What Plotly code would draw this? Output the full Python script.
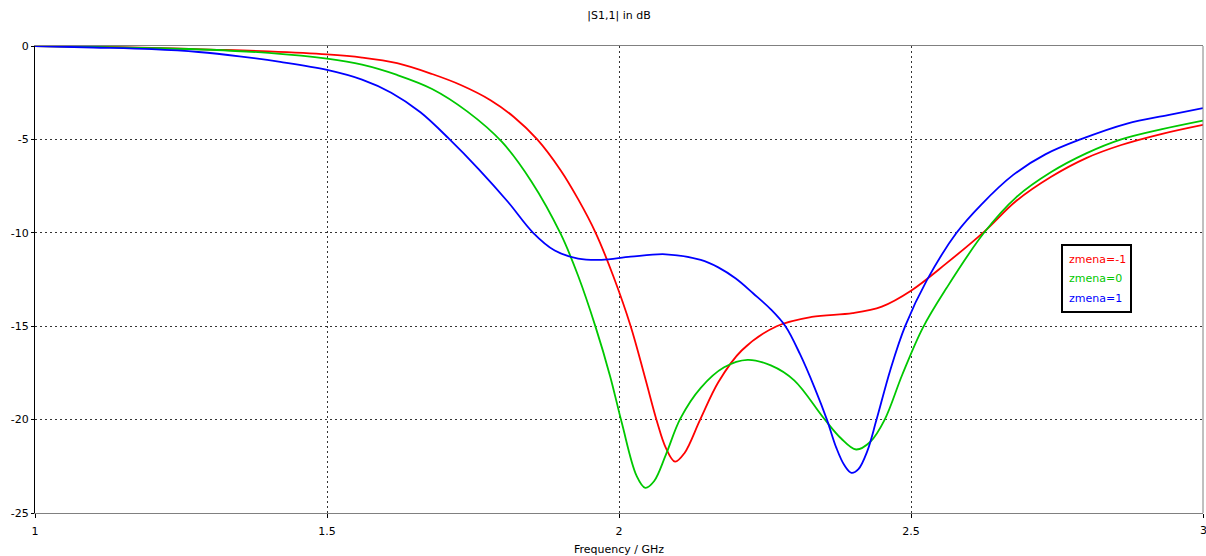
import plotly.graph_objects as go

# ---- data ----
f_red = [1.0, 1.1, 1.2, 1.3, 1.4, 1.5, 1.56, 1.62, 1.68, 1.73, 1.78, 1.82, 1.86, 1.90, 1.93,
         1.96, 1.99, 2.02, 2.045, 2.065, 2.08, 2.096, 2.112, 2.139, 2.17, 2.21, 2.27, 2.33,
         2.40, 2.45, 2.50, 2.56, 2.625, 2.68, 2.74, 2.80, 2.86, 2.93, 3.0]
db_red = [0, -0.04, -0.1, -0.19, -0.29, -0.45, -0.62, -0.92, -1.5, -2.1, -2.9, -3.8, -5.0, -6.65, -8.2,
          -10.0, -12.3, -15.0, -17.8, -20.1, -21.5, -22.25, -21.8, -20.0, -18.0, -16.3, -15.0, -14.5,
          -14.3, -13.95, -13.1, -11.65, -9.95, -8.3, -7.0, -6.0, -5.3, -4.7, -4.22]

f_green = [1.0, 1.1, 1.2, 1.3, 1.4, 1.5, 1.56, 1.62, 1.68, 1.74, 1.80, 1.85, 1.90, 1.93, 1.96,
           1.985, 2.005, 2.03, 2.045, 2.06, 2.08, 2.105, 2.14, 2.18, 2.22, 2.26, 2.30, 2.35,
           2.38, 2.406, 2.43, 2.455, 2.485, 2.52, 2.56, 2.625, 2.68, 2.74, 2.80, 2.86, 2.93, 3.0]
db_green = [0, -0.05, -0.11, -0.2, -0.37, -0.68, -1.0, -1.55, -2.3, -3.5, -5.15, -7.25, -10.05, -12.3, -15.05,
            -17.7, -20.2, -23.0, -23.65, -23.3, -21.9, -19.95, -18.3, -17.2, -16.8, -17.1, -17.9, -19.9,
            -21.0, -21.6, -21.2, -20.0, -17.6, -15.1, -13.0, -10.0, -8.1, -6.75, -5.75, -5.0, -4.45, -3.99]

f_blue = [1.0, 1.1, 1.2, 1.28, 1.35, 1.42, 1.5, 1.56, 1.61, 1.66, 1.71, 1.76, 1.81, 1.853, 1.89,
          1.93, 1.97, 2.02, 2.08, 2.14, 2.17, 2.20, 2.23, 2.26, 2.285, 2.31, 2.335, 2.356, 2.372,
          2.386, 2.398, 2.41, 2.425, 2.441, 2.465, 2.49, 2.527, 2.578, 2.62, 2.675, 2.73, 2.79,
          2.87, 2.94, 3.0]
db_blue = [0, -0.08, -0.17, -0.32, -0.55, -0.85, -1.28, -1.8, -2.5, -3.55, -5.0, -6.6, -8.35, -10.0, -10.95,
           -11.38, -11.45, -11.28, -11.15, -11.45, -11.85, -12.45, -13.25, -14.1, -15.0, -16.5, -18.3, -20.0,
           -21.5, -22.45, -22.85, -22.65, -21.7, -20.0, -17.3, -15.0, -12.55, -10.0, -8.5, -6.9, -5.8, -5.0,
           -4.15, -3.7, -3.33]

series_names = ["zmena=-1", "zmena=0", "zmena=1"]
series_colors = ["#ff0000", "#00c800", "#0000ff"]

x_ticks = [1, 1.5, 2, 2.5, 3]
x_ticklabels = ["1", "1.5", "2", "2.5", "3"]
y_ticks = [0, -5, -10, -15, -20, -25]
y_ticklabels = ["0", "-5", "-10", "-15", "-20", "-25"]

FONT = "DejaVu Sans"

fig = go.Figure()
for fx, dy, name, col in zip([f_red, f_green, f_blue], [db_red, db_green, db_blue],
                             series_names, series_colors):
    fig.add_trace(go.Scatter(x=fx, y=dy, mode="lines", name=name,
                             line=dict(color=col, width=1.8, shape="spline", smoothing=1.0),
                             showlegend=False))

fig.update_layout(
    width=1206, height=556,
    margin=dict(l=35, r=3, t=46, b=43),
    paper_bgcolor="white", plot_bgcolor="white",
    font=dict(family=FONT, size=11, color="#000000"),
    title=dict(text="|S1,1| in dB", x=0.5, xref="paper", y=1 - 15 / 556, yref="container",
               xanchor="center", yanchor="middle", font=dict(family=FONT, size=11, color="#000")),
)

fig.update_xaxes(
    range=[1, 3], tickvals=x_ticks, ticktext=x_ticklabels,
    showline=True, linecolor="#808080", linewidth=1, mirror=True,
    showgrid=True, gridcolor="#333333", gridwidth=1, griddash="2px,3px",
    ticks="outside", ticklen=4, tickcolor="#000000", tickwidth=1,
    ticklabelstandoff=4, automargin=False,
    zeroline=False,
    title=dict(text="Frequency / GHz", standoff=10, font=dict(family=FONT, size=11)),
)
fig.update_yaxes(
    range=[-25, 0], tickvals=y_ticks, ticktext=y_ticklabels,
    showline=True, linecolor="#000000", linewidth=1, mirror=False,
    showgrid=True, gridcolor="#333333", gridwidth=1, griddash="2px,3px",
    ticks="outside", ticklen=3, tickcolor="#000000", tickwidth=1,
    automargin=False, zeroline=False,
)

# right frame line (gray)
fig.add_shape(type="line", xref="paper", yref="paper", x0=1, x1=1, y0=0, y1=1,
              line=dict(color="#808080", width=1))

# last x tick label (sits at the page edge)
fig.add_annotation(xref="paper", yref="paper", x=1, y=0, yshift=-17, text=x_ticklabels[-1],
                   showarrow=False, xanchor="center", yanchor="middle",
                   font=dict(family=FONT, size=11, color="#000"))

# legend box
fig.add_shape(type="rect", xref="paper", yref="paper",
              x0=(1062 - 35) / 1168, x1=(1131 - 35) / 1168,
              y0=(513 - 312) / 467, y1=(513 - 245) / 467,
              line=dict(color="#000000", width=2), fillcolor="white", layer="above")
for i, (name, col) in enumerate(zip(series_names, series_colors)):
    ypx = 259 + i * 19.5
    fig.add_annotation(xref="paper", yref="paper", x=(1067 - 35) / 1168, y=(513 - ypx) / 467,
                       text=name, showarrow=False, xanchor="left", yanchor="middle",
                       font=dict(family=FONT, size=11, color=col))

fig.write_html("out.html")
